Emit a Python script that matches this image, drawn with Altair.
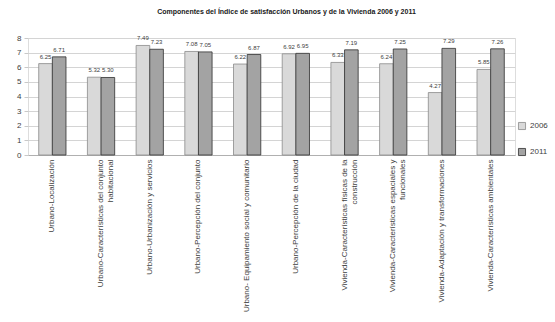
import altair as alt
import pandas as pd

categories = [
    "Urbano-Localización",
    "Urbano-Características del conjunto|habitacional",
    "Urbano-Urbanización y servicios",
    "Urbano-Percepción del conjunto",
    "Urbano- Equipamiento social y comunitario",
    "Urbano-Percepción de la ciudad",
    "Vivienda-Características físicas de la|construcción",
    "Vivienda-Características espaciales y|funcionales",
    "Vivienda-Adaptación y transformaciones",
    "Vivienda-Características ambientales",
]
values_2006 = [6.25, 5.32, 7.49, 7.08, 6.22, 6.92, 6.33, 6.24, 4.27, 5.85]
values_2011 = [6.71, 5.30, 7.23, 7.05, 6.87, 6.95, 7.19, 7.25, 7.29, 7.26]
series = ["2006", "2011"]
y_ticks = [0, 1, 2, 3, 4, 5, 6, 7, 8]
title_text = "Componentes del Índice de satisfacción Urbanos y de la Vivienda 2006 y 2011"

rows = []
for c, v in zip(categories, values_2006):
    rows.append({"cat": c, "year": "2006", "value": v})
for c, v in zip(categories, values_2011):
    rows.append({"cat": c, "year": "2011", "value": v})
df = pd.DataFrame(rows)

FONT = "Liberation Sans"

x = alt.X(
    "cat:N",
    sort=categories,
    title=None,
    scale=alt.Scale(paddingInner=0.44, paddingOuter=0.22),
    axis=alt.Axis(
        labelAngle=-90,
        labelExpr="split(datum.label, '|')",
        labelFontSize=8,
        labelFont=FONT,
        labelColor="#404040",
        labelLimit=400,
        labelPadding=4,
        ticks=False,
        domainColor="#b0b0b0",
        grid=False,
    ),
)
y = alt.Y(
    "value:Q",
    title=None,
    scale=alt.Scale(domain=[0, 8], nice=False, zero=True),
    axis=alt.Axis(
        values=y_ticks,
        tickCount=20,
        format="d",
        labelOverlap=False,
        labelFontSize=8,
        labelFont=FONT,
        labelColor="#404040",
        domain=False,
        tickSize=4,
        tickColor="#c8c8c8",
        gridColor="#d4d4d4",
        labelPadding=3,
    ),
)

base = alt.Chart(df).encode(
    x=x,
    y=y,
    xOffset=alt.XOffset("year:N", sort=series),
)

bars = base.mark_bar(strokeWidth=0.8).encode(
    color=alt.Color(
        "year:N",
        sort=series,
        scale=alt.Scale(domain=series, range=["#d9d9d9", "#a3a3a3"]),
        title=None,
        legend=alt.Legend(
            orient="none",
            legendX=490,
            legendY=84,
            symbolType="square",
            symbolSize=50,
            symbolStrokeColor="#555555",
            symbolStrokeWidth=0.8,
            labelFontSize=8,
            labelFont=FONT,
            labelColor="#404040",
            rowPadding=14,
        ),
    ),
    stroke=alt.Stroke(
        "year:N",
        sort=series,
        scale=alt.Scale(domain=series, range=["#8a8a8a", "#303030"]),
        legend=None,
    ),
)

labels = base.mark_text(dy=-7, fontSize=6, font=FONT, color="#404040").encode(
    text=alt.Text("value:Q", format=".2f"),
)

chart = (
    alt.layer(bars, labels)
    .properties(
        width=487,
        height=117,
        title=alt.TitleParams(
            title_text,
            fontSize=7,
            font=FONT,
            fontWeight="bold",
            color="#202020",
            offset=19,
            dx=15,
            anchor="middle",
        ),
        autosize=alt.AutoSizeParams(type="none"),
        padding={"left": 28, "top": 38, "right": 40, "bottom": 167},
    )
    .configure_view(strokeWidth=0)
    .configure(background="white")
)

chart.save("out.html", embed_options={"renderer": "svg", "actions": False})
